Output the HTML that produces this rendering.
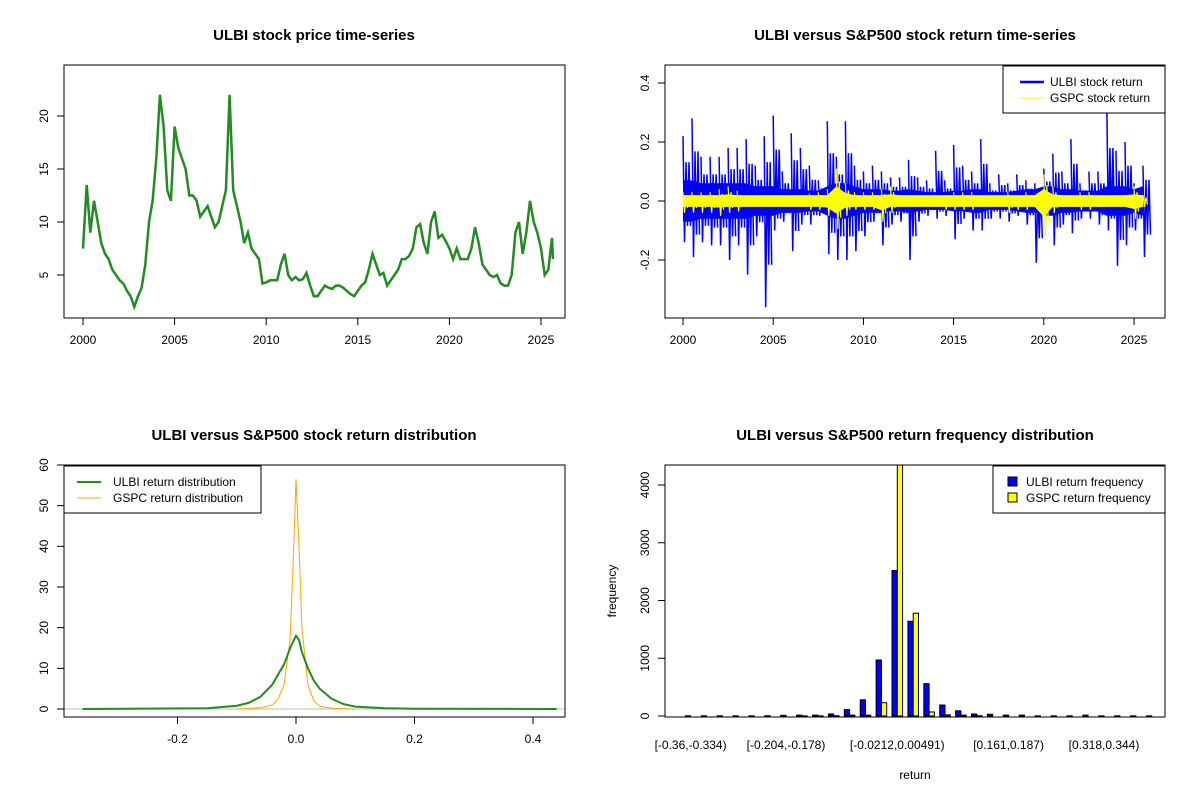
<!DOCTYPE html>
<html><head><meta charset="utf-8"><style>
body{margin:0;background:#fff}
svg{display:block;font-family:"Liberation Sans",Arial,sans-serif}
.t{font-size:12px;fill:#000}
.ti{font-size:15px;font-weight:bold;fill:#000}
</style></head><body>
<svg id="c" width="1200" height="800"></svg>
<script>
// Panel 1: price series (years, prices)
const priceYears=[2000,2000.2,2000.4,2000.6,2000.8,2001,2001.2,2001.4,2001.6,2001.8,2002,2002.2,2002.4,2002.6,2002.8,2003,2003.2,2003.4,2003.6,2003.8,2004,2004.2,2004.4,2004.6,2004.8,2005,2005.2,2005.4,2005.6,2005.8,2006,2006.2,2006.4,2006.6,2006.8,2007,2007.2,2007.4,2007.6,2007.8,2008,2008.2,2008.4,2008.6,2008.8,2009,2009.2,2009.4,2009.6,2009.8,2010,2010.2,2010.4,2010.6,2010.8,2011,2011.2,2011.4,2011.6,2011.8,2012,2012.2,2012.4,2012.6,2012.8,2013,2013.2,2013.4,2013.6,2013.8,2014,2014.2,2014.4,2014.6,2014.8,2015,2015.2,2015.4,2015.6,2015.8,2016,2016.2,2016.4,2016.6,2016.8,2017,2017.2,2017.4,2017.6,2017.8,2018,2018.2,2018.4,2018.6,2018.8,2019,2019.2,2019.4,2019.6,2019.8,2020,2020.2,2020.4,2020.6,2020.8,2021,2021.2,2021.4,2021.6,2021.8,2022,2022.2,2022.4,2022.6,2022.8,2023,2023.2,2023.4,2023.6,2023.8,2024,2024.2,2024.4,2024.6,2024.8,2025,2025.2,2025.4,2025.6,2025.65];
const priceValues=[7.5,13.5,9,12,10,8,7,6.5,5.5,5,4.5,4.2,3.5,3,2,3,3.8,6,10,12,16,22,19,13,12,19,17,16,15,12.5,12.5,12,10.5,11,11.5,10.5,9.5,10,11.5,13,22,13,11.5,10,8,9,7.5,7,6.5,4.2,4.3,4.5,4.5,4.5,6,7,5,4.5,4.8,4.5,4.6,5.2,4,3,3,3.5,4,3.8,3.7,4,4,3.8,3.5,3.2,3,3.5,4,4.3,5.5,7,6,5,5.2,4,4.5,5,5.5,6.5,6.5,6.8,7.5,9.5,9.8,8,7,10,11,8.5,8.8,8.2,7.5,6.5,7.5,6.5,6.5,6.5,7.5,9.5,8,6,5.5,5,4.8,5,4.2,4,4,5,9,10,7,9,12,10,9,7.5,5,5.5,8.5,6.5];
const priceYTicks=[5,10,15,20];
const yearTicks=[2000,2005,2010,2015,2020,2025];
// Panel 2: returns envelopes (half-year)
const retYears=[2000,2000.5,2001,2001.5,2002,2002.5,2003,2003.5,2004,2004.5,2005,2005.5,2006,2006.5,2007,2007.5,2008,2008.5,2009,2009.5,2010,2010.5,2011,2011.5,2012,2012.5,2013,2013.5,2014,2014.5,2015,2015.5,2016,2016.5,2017,2017.5,2018,2018.5,2019,2019.5,2020,2020.5,2021,2021.5,2022,2022.5,2023,2023.5,2024,2024.5,2025,2025.5];
const ulbiHigh=[0.22,0.28,0.15,0.15,0.15,0.18,0.18,0.21,0.12,0.22,0.29,0.1,0.23,0.18,0.12,0.07,0.27,0.15,0.27,0.12,0.1,0.12,0.1,0.08,0.08,0.14,0.08,0.07,0.17,0.07,0.19,0.12,0.1,0.21,0.06,0.09,0.06,0.09,0.07,0.06,0.11,0.16,0.1,0.21,0.06,0.1,0.1,0.3,0.17,0.2,0.06,0.12];
const ulbiLow=[-0.14,-0.19,-0.14,-0.15,-0.15,-0.2,-0.15,-0.25,-0.12,-0.36,-0.1,-0.07,-0.17,-0.08,-0.08,-0.05,-0.18,-0.2,-0.2,-0.17,-0.12,-0.07,-0.15,-0.08,-0.07,-0.2,-0.07,-0.05,-0.06,-0.05,-0.13,-0.06,-0.1,-0.1,-0.06,-0.06,-0.07,-0.05,-0.08,-0.21,-0.08,-0.15,-0.08,-0.11,-0.06,-0.06,-0.08,-0.1,-0.22,-0.15,-0.1,-0.19];
const ulbiCore=[0.07,0.07,0.06,0.06,0.06,0.06,0.06,0.06,0.05,0.05,0.05,0.04,0.04,0.04,0.035,0.035,0.05,0.06,0.06,0.05,0.04,0.04,0.04,0.035,0.035,0.04,0.035,0.03,0.03,0.03,0.035,0.035,0.04,0.04,0.03,0.03,0.03,0.035,0.04,0.04,0.05,0.05,0.04,0.04,0.035,0.035,0.035,0.05,0.05,0.05,0.04,0.05];
const gspcHigh=[0.03,0.03,0.03,0.03,0.04,0.05,0.035,0.02,0.015,0.015,0.015,0.012,0.015,0.02,0.025,0.03,0.04,0.11,0.06,0.03,0.03,0.03,0.04,0.05,0.02,0.015,0.02,0.015,0.02,0.02,0.03,0.03,0.03,0.02,0.01,0.01,0.03,0.02,0.03,0.02,0.09,0.05,0.02,0.02,0.03,0.03,0.02,0.015,0.015,0.02,0.05,0.02];
const gspcLow=[-0.04,-0.04,-0.04,-0.04,-0.05,-0.04,-0.035,-0.02,-0.015,-0.015,-0.015,-0.012,-0.015,-0.02,-0.03,-0.03,-0.05,-0.095,-0.05,-0.03,-0.03,-0.03,-0.07,-0.04,-0.02,-0.015,-0.02,-0.015,-0.02,-0.03,-0.03,-0.03,-0.03,-0.02,-0.01,-0.01,-0.04,-0.03,-0.03,-0.02,-0.12,-0.04,-0.02,-0.02,-0.03,-0.03,-0.02,-0.015,-0.015,-0.02,-0.06,-0.02];
const retYTicks=[-0.2,0,0.2,0.4];
// Panel 3: densities
const ulbiDensX=[-0.36,-0.15,-0.1,-0.08,-0.06,-0.04,-0.03,-0.02,-0.01,0,0.005,0.01,0.02,0.03,0.04,0.06,0.08,0.1,0.15,0.2,0.44];
const ulbiDensY=[0,0.2,0.8,1.5,3,6,8.5,11,15,18,17,14,10,7,5,2.5,1.2,0.6,0.2,0.05,0];
const gspcDensX=[-0.1,-0.06,-0.04,-0.03,-0.02,-0.01,-0.005,0,0.005,0.01,0.02,0.03,0.04,0.06,0.1];
const gspcDensY=[0,0.3,1,2.5,6,17,35,56.5,40,20,6,2,0.7,0.2,0];
const densXTicks=[-0.2,0,0.2,0.4];
const densYTicks=[0,10,20,30,40,50,60];
// Panel 4: histogram
const binLabels=["[-0.36,-0.334)","[-0.204,-0.178)","[-0.0212,0.00491)","[0.161,0.187)","[0.318,0.344)"];
const binLabelIdx=[0,6,13,20,26];
const ulbiFreq=[3,3,3,3,3,5,12,15,15,35,110,280,970,2520,1640,560,190,90,35,30,15,15,3,3,3,15,3,3,3,3];
const gspcFreq=[0,0,0,0,0,0,0,2,2,5,15,15,230,4350,1780,70,20,15,5,0,0,0,0,0,0,0,0,0,0,0];
const freqYTicks=[0,1000,2000,3000,4000];

const svg=document.getElementById('c');const NS='http://www.w3.org/2000/svg';
function el(tag,attrs,text){const e=document.createElementNS(NS,tag);for(const k in attrs)e.setAttribute(k,attrs[k]);if(text!==undefined)e.textContent=text;svg.appendChild(e);return e;}
function lin(d0,d1,r0,r1){return v=>r0+(v-d0)*(r1-r0)/(d1-d0);}
function box(x0,y0,x1,y1,name){const r=el('rect',{x:x0,y:y0,width:x1-x0,height:y1-y0,fill:'none',stroke:'#000','stroke-width':1});}
function title(x,y,t,name){const e=el('text',{x:x,y:y,'text-anchor':'middle',class:'ti'},t);}
function xTicks(vals,sx,yb,name,fmt){vals.forEach(v=>{const x=sx(v);const l=el('line',{x1:x,y1:yb,x2:x,y2:yb+7,stroke:'#000'});const t=el('text',{x:x,y:yb+26,'text-anchor':'middle',class:'t'},fmt?fmt(v):String(v));});}
function yTicks(vals,sy,xl,name,fmt){vals.forEach(v=>{const y=sy(v);const l=el('line',{x1:xl-7,y1:y,x2:xl,y2:y,stroke:'#000'});const t=el('text',{x:xl-16,y:y,'text-anchor':'middle',class:'t',transform:`rotate(-90 ${xl-16} ${y})`},fmt?fmt(v):String(v));});}
function path(pts,attrs,name){const e=el('path',Object.assign({d:'M'+pts.map(p=>p[0].toFixed(1)+','+p[1].toFixed(1)).join('L'),fill:'none'},attrs));return e;}
const f1=v=>v===0?'0.0':v.toFixed(1);

// Panel 1
{const sx=lin(2000,2025,83,541),sy=lin(5,20,275,116);
title(314,40,'ULBI stock price time-series','price-title');
path(priceYears.map((y,i)=>[sx(y),sy(priceValues[i])]),{stroke:'#228B22','stroke-width':2.5},'price-line');
box(64,65,565,318,'price-plot-frame');xTicks(yearTicks,sx,318,'price-x');yTicks(priceYTicks,sy,64,'price-y');}

// Panel 2
{const sx=lin(2000,2025,683,1134),sy=lin(0,0.4,201,83);
title(915,40,'ULBI versus S&P500 stock return time-series','return-title');
const up=[],dn=[];retYears.forEach((y,i)=>{up.push([sx(y),sy(ulbiCore[i])]);dn.unshift([sx(y),sy(-ulbiCore[i])]);});
const b=el('path',{d:'M'+up.concat(dn).map(p=>p.join(',')).join('L')+'Z',fill:'#0000ff'});
retYears.forEach((y,i)=>{const x=sx(y);const s=[];for(let k=0;k<6;k++){const xx=x+k*1.5;s.push([xx,sy(k%2?ulbiLow[i]*(k==1?1:0.6):ulbiHigh[i]*(k==0?1:0.6))]);}
path(s,{stroke:'#0000ff','stroke-width':1.5},'ulbi-return-spikes');});
const gu=[],gd=[];retYears.forEach((y,i)=>{gu.push([sx(y),sy(Math.max(0.02,gspcHigh[i]*0.45))]);gd.unshift([sx(y),sy(Math.min(-0.02,gspcLow[i]*0.45))]);});
const g=el('path',{d:'M'+gu.concat(gd).map(p=>p.join(',')).join('L')+'Z',fill:'#ffff00'});
retYears.forEach((y,i)=>{const x=sx(y);path([[x,sy(gspcHigh[i])],[x+1.5,sy(gspcLow[i])],[x+3,sy(gspcHigh[i]*0.6)],[x+4.5,sy(gspcLow[i]*0.6)]],{stroke:'#ffff00','stroke-width':1.2},'gspc-return-spikes');});
box(665,65,1165,318,'return-plot-frame');xTicks(yearTicks,sx,318,'return-x');yTicks(retYTicks,sy,665,'return-y',f1);
const lg=el('rect',{x:1003,y:66,width:162,height:47,fill:'#fff',stroke:'#000'});
path([[1020,82],[1044,82]],{stroke:'#0000ff','stroke-width':2.5},'legend-ulbi-line');path([[1020,98],[1044,98]],{stroke:'#ffff00','stroke-width':1},'legend-gspc-line');
let t=el('text',{x:1050,y:86,class:'t'},'ULBI stock return');
t=el('text',{x:1050,y:102,class:'t'},'GSPC stock return');}

// Panel 3
{const sx=lin(0,0.4,296,533),sy=lin(0,60,709,465);
title(314,440,'ULBI versus S&P500 stock return distribution','density-title');
path([[64,sy(0)],[565,sy(0)]],{stroke:'#bebebe','stroke-width':1},'density-zero-line');
path(gspcDensX.map((x,i)=>[sx(x),sy(gspcDensY[i])]),{stroke:'#FFA500','stroke-width':1},'gspc-density-line');
path(ulbiDensX.map((x,i)=>[sx(x),sy(ulbiDensY[i])]),{stroke:'#228B22','stroke-width':2},'ulbi-density-line');
box(64,465,565,717,'density-plot-frame');xTicks(densXTicks,sx,717,'density-x',v=>v===0?'0.0':String(v));yTicks(densYTicks,sy,64,'density-y');
const lg=el('rect',{x:64,y:466,width:197,height:47,fill:'#fff',stroke:'#000'});
path([[77,482],[101,482]],{stroke:'#228B22','stroke-width':2},'legend-ulbi-density-line');path([[77,498],[101,498]],{stroke:'#FFA500','stroke-width':1},'legend-gspc-density-line');
let t=el('text',{x:113,y:486,class:'t'},'ULBI return distribution');
t=el('text',{x:113,y:502,class:'t'},'GSPC return distribution');}

// Panel 4
{const u=5.3,x0=680,sy=lin(0,4000,716,485);
title(915,440,'ULBI versus S&P500 return frequency distribution','histogram-title');
const cl=el('clipPath',{id:'hc'});const cr=document.createElementNS(NS,'rect');cr.setAttribute('x',665);cr.setAttribute('y',465);cr.setAttribute('width',500);cr.setAttribute('height',252);cl.appendChild(cr);
ulbiFreq.forEach((v,i)=>{const x=x0+(3*i+1)*u;const r=el('rect',{x:x,y:sy(v),width:u,height:sy(0)-sy(v),fill:'#0000ff',stroke:'#000','stroke-width':1,'clip-path':'url(#hc)'});
const g=gspcFreq[i];const r2=el('rect',{x:x+u,y:sy(g),width:u,height:sy(0)-sy(g),fill:'#ffff00',stroke:'#000','stroke-width':1,'clip-path':'url(#hc)'});});
box(665,465,1165,717,'histogram-plot-frame');yTicks(freqYTicks,sy,665,'histogram-y');
binLabelIdx.forEach((b,k)=>{const t=el('text',{x:x0+(3*b+2)*u,y:749,'text-anchor':'middle',class:'t'},binLabels[k]);});
let t=el('text',{x:915,y:779,'text-anchor':'middle',class:'t'},'return');
t=el('text',{x:616,y:591,'text-anchor':'middle',class:'t',transform:'rotate(-90 616 591)'},'frequency');
const lg=el('rect',{x:993,y:466,width:172,height:47,fill:'#fff',stroke:'#000'});
let s=el('rect',{x:1008,y:477,width:9,height:9,fill:'#0000ff',stroke:'#000'});
s=el('rect',{x:1008,y:493,width:9,height:9,fill:'#ffff00',stroke:'#000'});
t=el('text',{x:1026,y:486,class:'t'},'ULBI return frequency');
t=el('text',{x:1026,y:502,class:'t'},'GSPC return frequency');}
</script>
</body></html>
